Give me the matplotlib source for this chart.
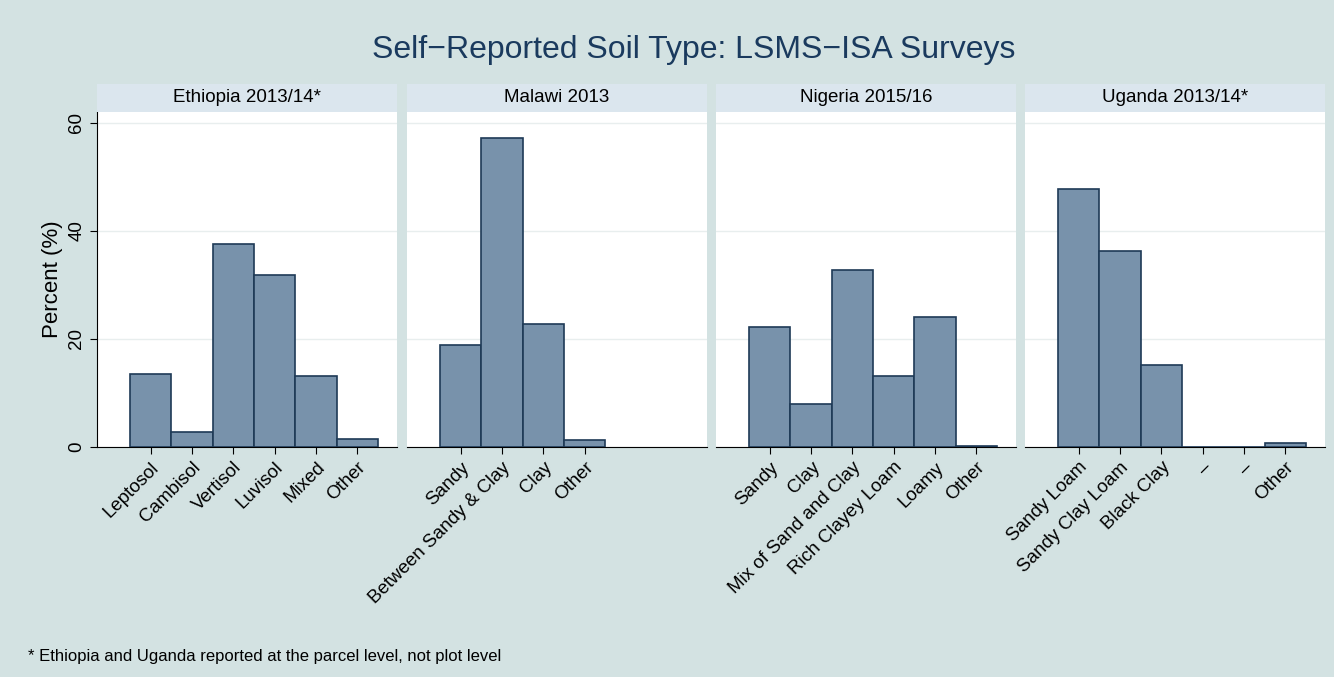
import numpy as np
import matplotlib.pyplot as plt
from matplotlib.patches import Rectangle

plt.rcParams['font.family'] = ['Liberation Sans', 'DejaVu Sans']

# Data
titles = ["Ethiopia 2013/14*", "Malawi 2013", "Nigeria 2015/16", "Uganda 2013/14*"]
eth_labels = ["Leptosol", "Cambisol", "Vertisol", "Luvisol", "Mixed", "Other"]
eth_vals = [13.5, 2.7, 37.5, 31.8, 13.1, 1.4]
mwi_labels = ["Sandy", "Between Sandy & Clay", "Clay", "Other"]
mwi_vals = [18.9, 57.2, 22.8, 1.3]
nga_labels = ["Sandy", "Clay", "Mix of Sand and Clay", "Rich Clayey Loam", "Loamy", "Other"]
nga_vals = [22.2, 7.9, 32.8, 13.2, 24.0, 0.2]
uga_labels = ["Sandy Loam", "Sandy Clay Loam", "Black Clay", "\u2013", "\u2013", "Other"]
uga_vals = [47.8, 36.3, 15.2, 0, 0, 0.7]

panels = [(eth_labels, eth_vals), (mwi_labels, mwi_vals),
          (nga_labels, nga_vals), (uga_labels, uga_vals)]

bg = "#d3e2e2"
W, H = 1334, 677
fig = plt.figure(figsize=(W / 100, H / 100), dpi=100, facecolor=bg)

lefts = [97, 407, 716, 1025]
for i, (labels, vals) in enumerate(panels):
    ax = fig.add_axes([lefts[i] / W, (H - 447) / H, 300 / W, (447 - 112) / H])
    x = np.arange(len(vals))
    ax.bar(x, vals, width=1, color="#7892ab", edgecolor="#1e3a56", linewidth=1.2, zorder=3)
    ax.set_xlim(-1.3, 5.96)
    ax.set_ylim(0, 62)
    ax.set_yticks([0, 20, 40, 60])
    ax.grid(axis="y", color="#e8eeee", linewidth=1, zorder=0)
    ax.set_xticks(x)
    ax.set_xticklabels(labels, rotation=45, ha="right", rotation_mode="anchor", fontsize=13.5)
    ax.tick_params(axis="x", length=5, direction="out")
    for s in ["top", "right"]:
        ax.spines[s].set_visible(False)
    if i == 0:
        ax.set_yticklabels(["0", "20", "40", "60"], rotation=90, va="center", fontsize=13.5)
        ax.set_ylabel("Percent (%)", fontsize=16)
        ax.tick_params(axis="y", length=5)
    else:
        ax.spines["left"].set_visible(False)
        ax.tick_params(axis="y", length=0, labelleft=False)
    # strip header
    fig.patches.append(Rectangle((lefts[i] / W, (H - 112) / H), 300 / W, 28 / H,
                                 transform=fig.transFigure, facecolor="#dbe6ee",
                                 edgecolor="none"))
    fig.text((lefts[i] + 150) / W, (H - 98) / H, titles[i], ha="center", va="center",
             fontsize=13.5)

fig.text(0.52, (H - 50) / H, "Self\u2212Reported Soil Type: LSMS\u2212ISA Surveys",
         ha="center", va="center", fontsize=23, color="#1a3a5e")
fig.text(28 / W, (H - 657) / H, "* Ethiopia and Uganda reported at the parcel level, not plot level",
         ha="left", va="center", fontsize=12)

fig.savefig("out.png", dpi=100, facecolor=bg)
